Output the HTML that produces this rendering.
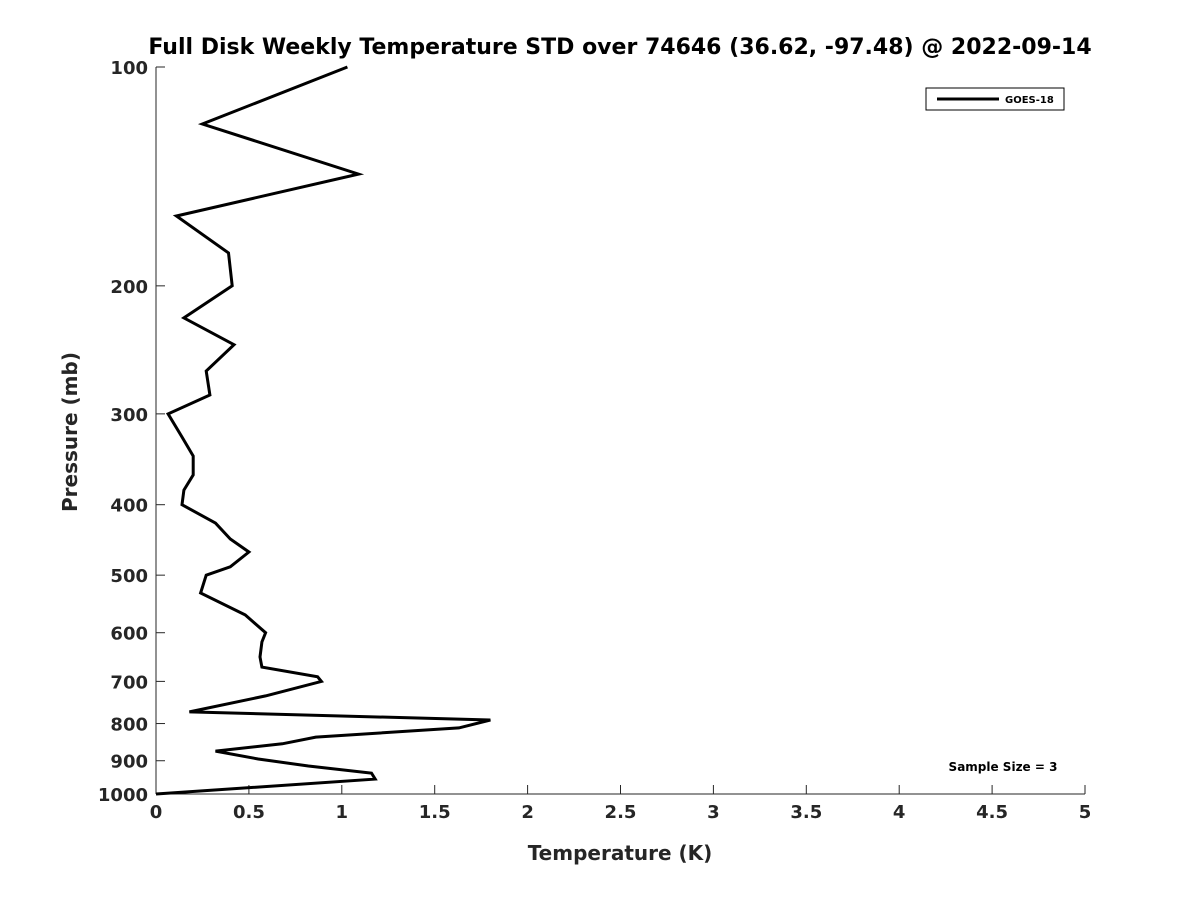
<!DOCTYPE html>
<html><head><meta charset="utf-8">
<style>
body{margin:0;background:#fff;width:1200px;height:900px;overflow:hidden;font-family:"Liberation Sans","DejaVu Sans",sans-serif;}
svg text{font-family:"DejaVu Sans","Liberation Sans",sans-serif;font-weight:bold;fill:#262626;}
</style></head>
<body>
<svg id="chart" width="1200" height="900" xmlns="http://www.w3.org/2000/svg">
<text x="620" y="54" font-size="22" text-anchor="middle" fill="#000" style="fill:#000">Full Disk Weekly Temperature STD over 74646 (36.62, -97.48) @ 2022-09-14</text>
<g id="axes"></g>
<g id="series"></g>
<text x="620" y="860" font-size="20" text-anchor="middle">Temperature (K)</text>
<text transform="translate(77,432) rotate(-90)" font-size="20" text-anchor="middle">Pressure (mb)</text>
<g>
<rect x="926" y="88" width="138" height="22" fill="#fff" stroke="#000" stroke-width="1"/>
<line x1="937" y1="99" x2="999" y2="99" stroke="#000" stroke-width="3"/>
<text x="1005" y="103" font-size="10" style="fill:#000">GOES-18</text>
</g>
<text x="1003" y="771" font-size="12" text-anchor="middle" style="fill:#000">Sample Size = 3</text>
</svg>
<script>
const temps = [1.03,0.25,1.09,0.11,0.39,0.41,0.15,0.42,0.27,0.29,0.065,0.14,0.2,0.2,0.15,0.14,0.32,0.40,0.5,0.40,0.27,0.24,0.48,0.59,0.57,0.56,0.57,0.87,0.89,0.59,0.18,1.80,1.63,0.86,0.68,0.32,0.55,0.82,1.16,1.18,0];
const pressures = [100,119.8,140.4,160.3,180.2,200,221.4,241,261.9,282.6,300,322.8,342.8,364,381.9,400,424,445.9,464.6,487,500,529,567,600,618,648,669,690,700,733,771,791,811,835,853,873,895,915,936,954,1000];
const xTicks = [0,0.5,1,1.5,2,2.5,3,3.5,4,4.5,5];
const xTickLabels = ["0","0.5","1","1.5","2","2.5","3","3.5","4","4.5","5"];
const yTicks = [100,200,300,400,500,600,700,800,900,1000];
const yTickLabels = ["100","200","300","400","500","600","700","800","900","1000"];
const X0=156,X1=1085,Y0=67,Y1=794;
const xs=v=>X0+(v-0)/5*(X1-X0);
const ys=p=>Y0+(Math.log10(p)-2)*(Y1-Y0);
const NS="http://www.w3.org/2000/svg";
const ax=document.getElementById('axes');
function mk(tag,attrs,parent){const e=document.createElementNS(NS,tag);for(const k in attrs)e.setAttribute(k,attrs[k]);parent.appendChild(e);return e;}
const xa=mk('line',{x1:X0,y1:Y1,x2:X1,y2:Y1,stroke:'#262626','stroke-width':1},ax);


const ya=mk('line',{x1:X0,y1:Y0,x2:X0,y2:Y1,stroke:'#262626','stroke-width':1},ax);


xTicks.forEach((v,i)=>{
 const t=mk('line',{x1:xs(v),y1:Y1,x2:xs(v),y2:Y1-9,stroke:'#262626','stroke-width':1},ax);
 
 
 const l=mk('text',{x:xs(v),y:Y1+24,'font-size':18,'text-anchor':'middle'},ax);
 l.textContent=xTickLabels[i];
 
 
});
yTicks.forEach((p,i)=>{
 const t=mk('line',{x1:X0,y1:ys(p),x2:X0+9,y2:ys(p),stroke:'#262626','stroke-width':1},ax);
 
 
 const l=mk('text',{x:X0-8,y:ys(p)+7,'font-size':18,'text-anchor':'end'},ax);
 l.textContent=yTickLabels[i];
 
 
});
const pts=temps.map((t,i)=>xs(t).toFixed(1)+','+ys(pressures[i]).toFixed(1)).join(' ');
const line=mk('polyline',{points:pts,fill:'none',stroke:'#000','stroke-width':3,'stroke-linejoin':'miter'},document.getElementById('series'));


</script>
</body></html>
